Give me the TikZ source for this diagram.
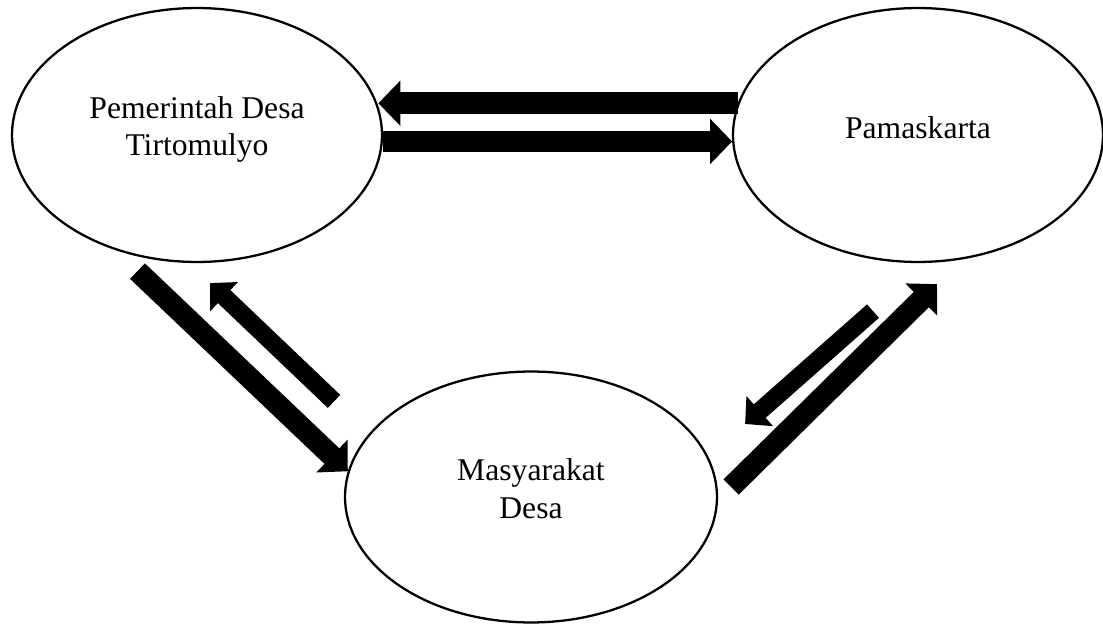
\documentclass[tikz,border=0pt]{standalone}
\usepackage{fontspec}
\setmainfont{Liberation Serif}
\usetikzlibrary{shapes.geometric,arrows.meta,calc}

\begin{document}
\begin{tikzpicture}[x=0.02cm, y=-0.02cm,
  every node/.style={font=\fontsize{18}{21.5}\selectfont},
  party/.style={draw, ellipse, line width=1.3pt, inner sep=0pt, minimum width=7.4cm, minimum height=5.08cm},
  bigflow/.style={line width=0.43cm, -{Triangle[width=0.88cm, length=0.44cm]}},
  smallflow/.style={line width=0.36cm, -{Triangle[width=0.78cm, length=0.39cm]}}]
\useasboundingbox (0,0) rectangle (1103,625);
\node[party, label={[align=center, yshift=0.11cm]center:Pemerintah Desa\\Tirtomulyo}] (gov) at (197,135) {};
\node[party, label={[yshift=0.14cm]center:Pamaskarta}] (pam) at (918,135) {};
\node[party, minimum width=7.44cm, minimum height=5.02cm, label={[align=center, yshift=0.16cm]center:Masyarakat\\Desa}] (masy) at (531,497) {};
\draw[bigflow] (pam.170.2) -- (gov.9.8 |- pam.170.2);
\draw[bigflow] (gov.-2) -- (pam.182 |- gov.-2);
\draw[bigflow] ($(gov.south)+(-59.5,8)$) -- (masy.172);
\draw[smallflow] ($(masy.north)+(-197,31)$) -- ($(gov.south)+(13,20)$);
\draw[bigflow] ($(masy.east)+(13,-10)$) -- ($(pam.south)+(19,21)$);
\draw[smallflow] ($(pam.south)+(-45,48)$) -- ($(masy.east)+(27,-73)$);
\end{tikzpicture}
\end{document}
